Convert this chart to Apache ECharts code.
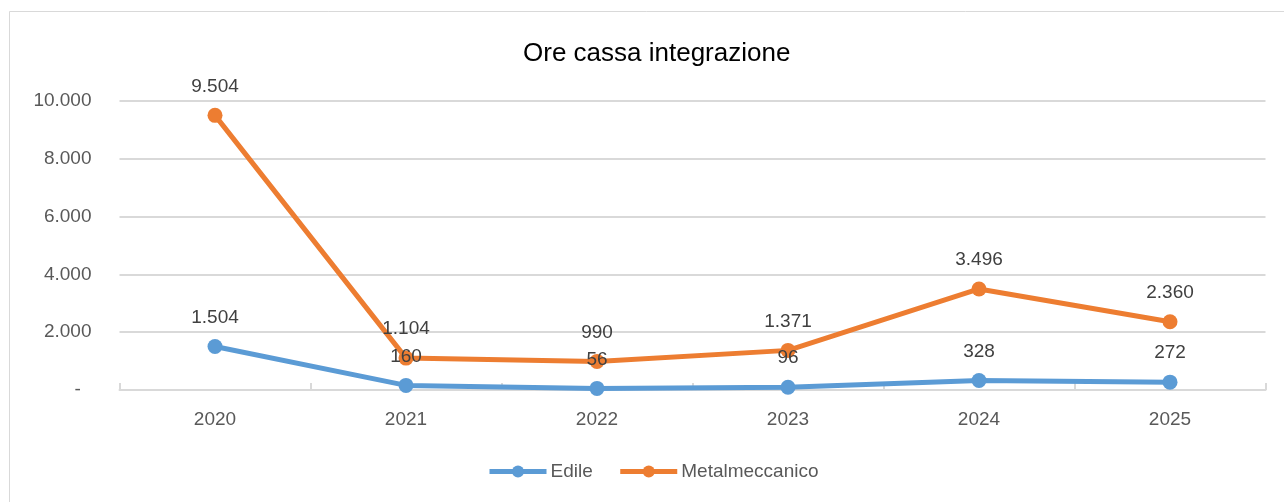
<!DOCTYPE html>
<html>
<head>
<meta charset="utf-8">
<script src="https://cdn.jsdelivr.net/npm/echarts@6/dist/echarts.min.js"></script>
<style>
  html, body { margin: 0; padding: 0; background: #fff; }
  #chart { width: 1284px; height: 502px; }
</style>
</head>
<body>
<div id="chart"></div>
<script>
// anni
const years = ["2020", "2021", "2022", "2023", "2024", "2025"];
// ore cassa integrazione
const edile = [1504, 160, 56, 96, 328, 272];
const metalmeccanico = [9504, 1104, 990, 1371, 3496, 2360];

//formato italiano con punto per le migliaia
function fmt(v) {
  if (v === 0) return "-  ";
  return String(v).replace(/\B(?=(\d{3})+(?!\d))/g, ".");
}

const FONT = "Liberation Sans, Arial, sans-serif";
const chart = echarts.init(document.getElementById("chart"));

let option = {
  animation: false,
  backgroundColor: "#fff",
  textStyle: { fontFamily: FONT },
  title: {
    text: "Ore cassa integrazione",
    left: 518,
    top: 36,
    textStyle: { fontFamily: FONT, fontSize: 26, fontWeight: "normal", color: "#000" }
  },
  legend: {
    bottom: 16,
    left: 482,
    itemWidth: 57,
    itemHeight: 15,
    itemGap: 25,
    lineStyle: { width: 5 },
    textStyle: { fontFamily: FONT, fontSize: 19, color: "#595959", padding: [0, 0, 0, -1] },
    data: ["Edile", "Metalmeccanico"]
  },
  grid: { left: 119.5, right: 18.5, top: 101, bottom: 112, containLabel: false },
  xAxis: {
    type: "category",
    data: years,
    boundaryGap: true,
    axisLine: { lineStyle: { color: "#d9d9d9", width: 2 } },
    axisTick: { show: true, inside: true, length: 7, lineStyle: { color: "#d9d9d9", width: 2 } },
    axisLabel: { fontFamily: FONT, fontSize: 19, color: "#595959", margin: 20 }
  },
  yAxis: {
    type: "value",
    min: 0,
    max: 10000,
    interval: 2000,
    axisLine: { show: false },
    axisTick: { show: false },
    splitLine: { lineStyle: { color: "#d9d9d9", width: 2 } },
    axisLabel: { fontFamily: FONT, fontSize: 19, color: "#595959", margin: 28, formatter: fmt }
  },
  graphic: [
    {
      type: "polyline",
      shape: { points: [[9.5, 502], [9.5, 11.5], [1284, 11.5]] },
      style: { stroke: "#d9d9d9", lineWidth: 1, fill: null }
    }
  ],
  series: [
    {
      name: "Edile",
      type: "line",
      data: edile,
      symbol: "circle",
      symbolSize: 15,
      lineStyle: { color: "#5b9bd5", width: 5 },
      itemStyle: { color: "#5b9bd5" },
      label: {
        show: true,
        position: "top",
        distance: 12,
        fontFamily: FONT,
        fontSize: 19,
        color: "#404040",
        formatter: p => fmt(p.value)
      }
    },
    {
      name: "Metalmeccanico",
      type: "line",
      data: metalmeccanico,
      symbol: "circle",
      symbolSize: 15,
      lineStyle: { color: "#ed7d31", width: 5 },
      itemStyle: { color: "#ed7d31" },
      label: {
        show: true,
        position: "top",
        distance: 12,
        fontFamily: FONT,
        fontSize: 19,
        color: "#404040",
        formatter: p => fmt(p.value)
      }
    }
  ]
};

chart.setOption(option);
</script>
</body>
</html>
